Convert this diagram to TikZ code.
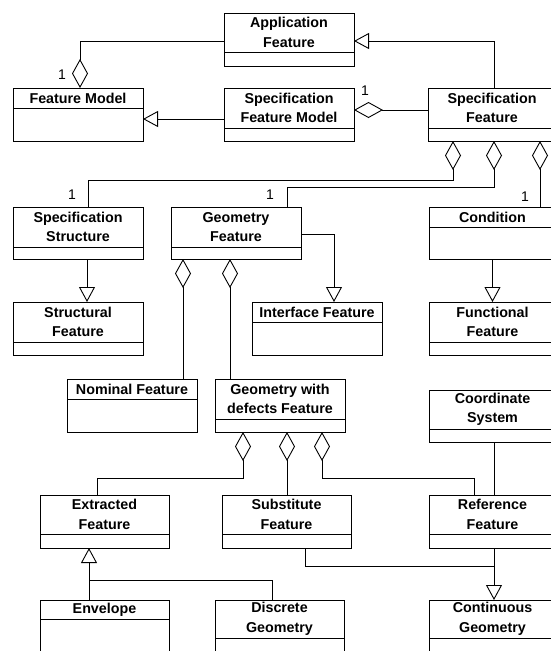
\documentclass[tikz,border=0pt]{standalone}
\usepackage{fontspec}
\setmainfont{Liberation Sans}
\usetikzlibrary{arrows.meta}
\tikzset{
 uml/.style={line width=0.9pt},
 clsbox/.style={draw, uml, inner sep=0pt, outer sep=0pt, anchor=north west},
 clstext/.style={font=\bfseries\fontsize{14.3}{19.5}\selectfont, align=center, inner sep=0pt},
 mult/.style={font=\fontsize{14}{16}\selectfont, inner sep=0pt},
 agg/.style={uml, -{Diamond[open, length=29pt, width=16pt]}},
 gen/.style={uml, -{Triangle[open, length=15pt, width=16pt]}},
 assoc/.style={uml},
}
% name, x1, y1, x2, ysep, y2, text
\newcommand\umlclass[7]{%
 \node[clsbox, minimum width={(#4-#2)*1pt}, minimum height={(#6-#3)*1pt}] (#1) at (#2,#3) {};
 \draw[uml] (#2,#5) -- (#4,#5);
 \node[clstext] (#1t) at ({(#2+#4)/2},{(#3+#5)/2}) {#7};
}
\begin{document}
\begin{tikzpicture}[x=1pt,y=-1pt]
\useasboundingbox (0,0) rectangle (550,651);
\umlclass{AF}{224}{13}{354}{52}{66}{Application\\Feature}
\umlclass{FM}{13}{88}{143}{108}{141}{Feature Model}
\umlclass{SFM}{224}{88}{354}{128}{141}{Specification\\Feature Model}
\umlclass{SF}{428}{88}{556}{128}{141}{Specification\\Feature}
\umlclass{SS}{13}{207}{143}{247}{259}{Specification\\Structure}
\umlclass{GF}{171}{207}{301}{247}{259}{Geometry\\Feature}
\umlclass{CO}{429}{207}{556}{227}{259}{Condition}
\umlclass{STF}{13}{302}{143}{342}{355}{Structural\\Feature}
\umlclass{IF}{252}{302}{382}{322}{355}{Interface Feature}
\umlclass{FF}{429}{302}{556}{342}{355}{Functional\\Feature}
\umlclass{NF}{67}{379}{197}{399}{432}{Nominal Feature}
\umlclass{GD}{215}{379}{345}{419}{432}{Geometry with\\defects Feature}
\umlclass{CS}{429}{390}{556}{429}{442}{Coordinate\\System}
\umlclass{EF}{40}{495}{169}{534}{548}{Extracted\\Feature}
\umlclass{SUB}{222}{495}{351}{534}{548}{Substitute\\Feature}
\umlclass{RF}{429}{495}{556}{534}{548}{Reference\\Feature}
\umlclass{ENV}{40}{600}{169}{619}{665}{Envelope}
\umlclass{DG}{215}{600}{344}{638}{665}{Discrete\\Geometry}
\umlclass{CG}{429}{600}{556}{638}{665}{Continuous\\Geometry}

% top
\draw[agg] (AF.west |- 0,41) -| (FM.north -| 80,0);
\draw[gen] (SFM.west |- 0,119) -- (FM.east |- 0,119);
\draw[agg] (SF.west |- 0,110) -- (SFM.east |- 0,110);
\draw[gen] (SF.north -| 494,0) |- (AF.east |- 0,41);
% specification feature parts
\draw[agg] (SS.north -| 88,0) |- (453,180) -- (SF.south -| 453,0);
\draw[agg] (GF.north -| 287,0) |- (494,187) -- (SF.south -| 494,0);
\draw[agg] (CO.north -| 540,0) -- (SF.south -| 540,0);
% second row
\draw[gen] (SS.south -| 87,0) -- (STF.north -| 87,0);
\draw[gen] (GF.east |- 0,234) -| (IF.north -| 334,0);
\draw[gen] (CO.south) -- (FF.north);
\draw[agg] (NF.north -| 183,0) -- (GF.south -| 183,0);
\draw[agg] (GD.north -| 230,0) -- (GF.south -| 230,0);
% geometry with defects parts
\draw[agg] (EF.north -| 97,0) |- (243,478) -- (GD.south -| 243,0);
\draw[agg] (SUB.north -| 287,0) -- (GD.south -| 287,0);
\draw[agg] (RF.north -| 474,0) |- (322,478) -- (GD.south -| 322,0);
\draw[assoc] (CS.south -| 494,0) -- (RF.north -| 494,0);
% bottom generalizations
\coordinate (j1) at (89,580);
\coordinate (j2) at (494,566);
\draw[gen] (ENV.north -| 89,0) -- (EF.south -| 89,0);
\draw[uml] (DG.north -| 272,0) |- (j1);
\draw[gen] (RF.south -| 494,0) -- (CG.north -| 494,0);
\draw[uml] (SUB.south -| 305,0) |- (j2);

% multiplicities
\node[mult] (m1) at (62,75) {1};
\node[mult] (m2) at (365,91) {1};
\node[mult] (m3) at (72,195) {1};
\node[mult] (m4) at (270,195) {1};
\node[mult] (m5) at (525,197) {1};
\end{tikzpicture}
\end{document}
